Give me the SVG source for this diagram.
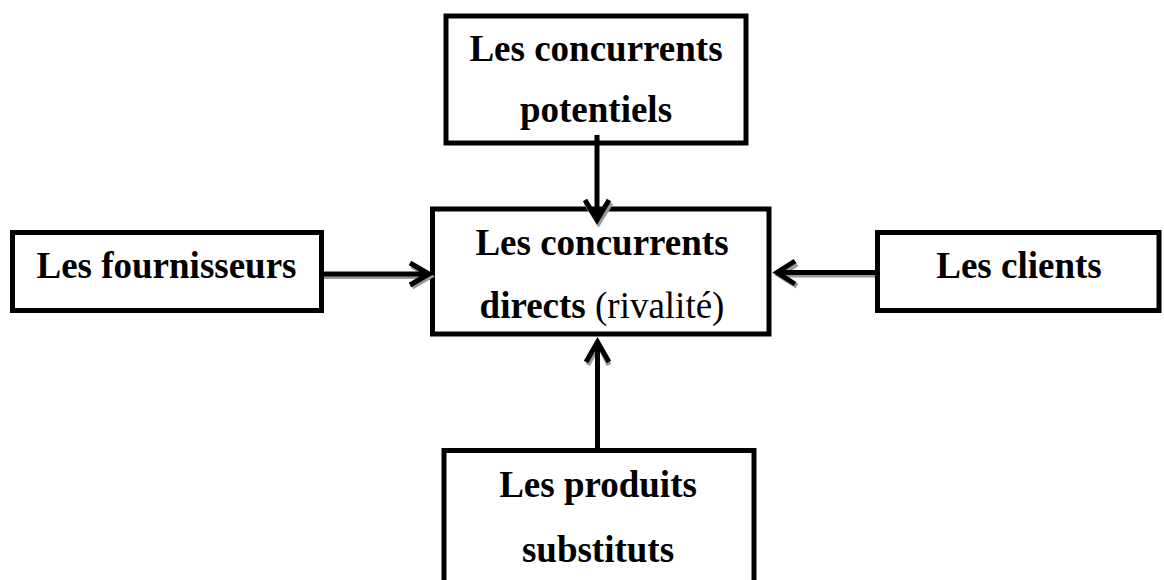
<svg xmlns="http://www.w3.org/2000/svg" width="1164" height="580" viewBox="0 0 1164 580">
<style>
.box{fill:#fff;stroke:#000;stroke-width:5}
.t{font-family:"Liberation Serif","Times New Roman",serif;font-size:37px;font-weight:bold;text-anchor:middle;fill:#000}
.n{font-weight:normal}
.ln{fill:none;stroke:#000;stroke-width:5;stroke-linecap:butt;stroke-linejoin:miter}
.sh{fill:none;stroke:#999;stroke-width:5;stroke-linejoin:miter}
</style>
<rect width="1164" height="580" fill="#fff"/>
<g id="potentiels">
<rect class="box" x="446" y="16" width="300" height="127"/>
<text class="t" x="596" y="61">Les concurrents</text>
<text class="t" x="596" y="122">potentiels</text>
</g>
<g id="directs">
<rect class="box" x="432.5" y="209" width="336.5" height="125"/>
<text class="t" x="602" y="255">Les concurrents</text>
<text class="t" x="602" y="318">directs <tspan class="n">(rivalité)</tspan></text>
</g>
<g id="fournisseurs">
<rect class="box" x="12.5" y="232.5" width="309" height="78"/>
<text class="t" x="166.5" y="278">Les fournisseurs</text>
</g>
<g id="clients">
<rect class="box" x="877.5" y="232.5" width="281.5" height="78"/>
<text class="t" x="1019" y="278">Les clients</text>
</g>
<g id="substituts">
<rect class="box" x="444" y="450.5" width="310" height="140"/>
<text class="t" x="598" y="497">Les produits</text>
<text class="t" x="598" y="562">substituts</text>
</g>
<g id="connectors">
<path class="sh" d="M324 276.5 H430 M412 266 L430 276.5 L412 287"/>
<path class="ln" d="M324 274 H429 M410 263 L429 274 L410 285"/>
<path class="sh" d="M875 275 H779 M797 264 L779 275 L797 286"/>
<path class="ln" d="M875 272.5 H777 M795 261 L777 272.5 L795 284"/>
<path class="sh" d="M586 203 L598.5 223 L611 203"/>
<path class="ln" d="M597 135 V219 M585 200 L597 220 L609 200"/>
<path class="sh" d="M588 365 L598.5 344 L609 365"/>
<path class="ln" d="M597.5 450 V344 M586 362 L597.5 342 L609 362"/>
</g>
</svg>
